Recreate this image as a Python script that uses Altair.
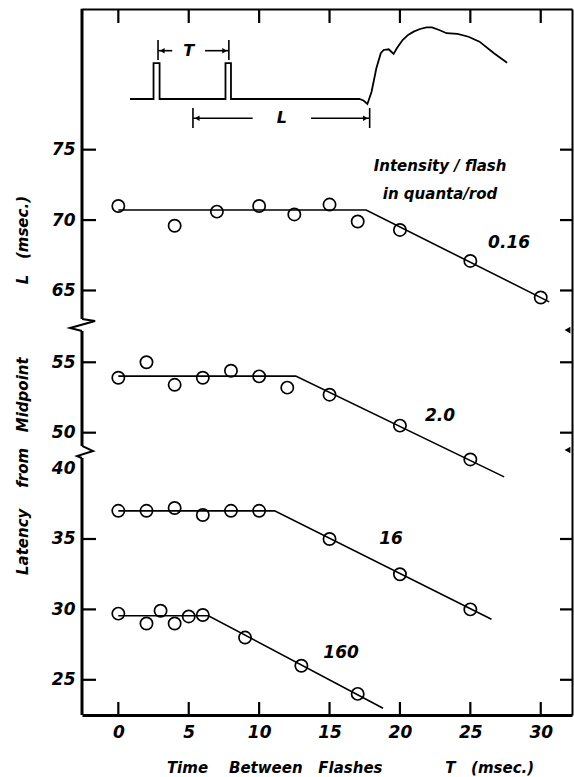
import altair as alt
import pandas as pd

# ---------------- data ----------------
# Time between flashes T (msec) and latency L (msec), per intensity (quanta/rod)
t_016 = [0, 4, 7, 10, 12.5, 15, 17, 20, 25, 30]
l_016 = [71.0, 69.6, 70.6, 71.0, 70.4, 71.1, 69.9, 69.3, 67.1, 64.5]
t_20 = [0, 2, 4, 6, 8, 10, 12, 15, 20, 25]
l_20 = [53.9, 55.0, 53.4, 53.9, 54.4, 54.0, 53.2, 52.7, 50.5, 48.1]
t_16 = [0, 2, 4, 6, 8, 10, 15, 20, 25]
l_16 = [37.0, 37.0, 37.2, 36.7, 37.0, 37.0, 35.0, 32.5, 30.0]
t_160 = [0, 2, 3, 4, 5, 6, 9, 13, 17]
l_160 = [29.7, 29.0, 29.9, 29.0, 29.5, 29.6, 28.0, 26.0, 24.0]

# fitted two-segment lines: start, knee, end
fit_t_016 = [0, 17.6, 30.6]
fit_l_016 = [70.72, 70.72, 64.19]
fit_t_20 = [0, 12.6, 27.4]
fit_l_20 = [54.02, 54.02, 46.86]
fit_t_16 = [0, 11.1, 26.5]
fit_l_16 = [37.0, 37.0, 29.3]
fit_t_160 = [0, 6.4, 18.8]
fit_l_160 = [29.55, 29.55, 22.98]

series_names = ["0.16", "2.0", "16", "160"]
series_panel = ["top", "mid", "bot", "bot"]
# broken axis: plotted height = latency - offset of its panel
panel_offset = {"top": 34.85, "mid": 29.95, "bot": 22.5}
panel_ticks = {"top": [65, 70, 75], "mid": [50, 55], "bot": [25, 30, 35, 40]}
panel_range = {"top": (62.98, 85.0), "mid": (49.06, 57.22), "bot": (22.5, 40.75)}
x_ticks = [0, 5, 10, 15, 20, 25, 30]

# series labels (T, latency)
lab_t = [27.75, 22.85, 19.37, 15.82]
lab_l = [68.4, 51.2, 35.0, 26.9]
legend_lines = ["Intensity  /  flash", "in  quanta/rod"]
legend_t = [22.85, 22.85]
legend_y = [38.99, 37.0]

# inset schematic (record trace), in plot units
trace_t = [0.83, 2.50, 2.50, 2.93, 2.93, 7.61, 7.61, 8.00, 8.00, 17.12, 17.41, 17.69,
           17.98, 18.33, 18.64, 18.84, 19.20, 19.37, 19.55, 19.79, 20.19, 20.58, 20.97,
           21.43, 21.88, 22.28, 22.79, 23.31, 24.09, 24.87, 25.65, 26.68, 27.61]
trace_y = [43.75, 43.75, 46.29, 46.29, 43.75, 43.75, 46.29, 46.29, 43.75, 43.75, 43.64,
           43.39, 44.25, 45.95, 47.00, 47.23, 47.28, 47.12, 46.95, 47.37, 47.94, 48.30,
           48.53, 48.72, 48.84, 48.84, 48.65, 48.42, 48.37, 48.17, 47.82, 47.00, 46.33]
dim_T = {"x1": 2.82, "x2": 7.85, "y": 47.18, "gap": (3.83, 6.16), "bar": (46.52, 47.94), "label": "T"}
dim_L = {"x1": 5.30, "x2": 17.85, "y": 42.38, "gap": (9.54, 13.69), "bar": (41.69, 43.11), "label": "L"}

# axis break marks (plot units)
brk_t = [[-2.58, -1.65, -3.43, -2.58], [-2.58, -1.80, -2.93, -2.58]]
brk_y = [[28.13, 27.98, 27.49, 27.27], [19.11, 18.75, 18.39, 18.25]]
arrow_t = [31.9, 31.9]
arrow_y = [27.34, 18.82]

X_DOM = [-2.58, 32.22]
Y_DOM = [0, 50.14]
W, H = 490, 706
FONT = "DejaVu Sans"
PX = 14.08            # pixels per plot unit (both axes share it)

# ---------------- tables ----------------
pts_t = [t_016, t_20, t_16, t_160]
pts_l = [l_016, l_20, l_16, l_160]
fits_t = [fit_t_016, fit_t_20, fit_t_16, fit_t_160]
fits_l = [fit_l_016, fit_l_20, fit_l_16, fit_l_160]

rows = []
for name, pan, ts, ls in zip(series_names, series_panel, pts_t, pts_l):
    for t, l in zip(ts, ls):
        rows.append({"series": name, "T": t, "L": l, "y": l - panel_offset[pan]})
pts = pd.DataFrame(rows)

rows = []
for name, pan, ts, ls in zip(series_names, series_panel, fits_t, fits_l):
    for i, (t, l) in enumerate(zip(ts, ls)):
        rows.append({"series": name, "T": t, "L": l, "y": l - panel_offset[pan], "o": i})
fits = pd.DataFrame(rows)

labs = pd.DataFrame({
    "text": series_names, "T": lab_t,
    "y": [l - panel_offset[p] for l, p in zip(lab_l, series_panel)],
})
legend = pd.DataFrame({"text": legend_lines, "T": legend_t, "y": legend_y})

tick_vals = []
for p in ["bot", "mid", "top"]:
    tick_vals += [v - panel_offset[p] for v in panel_ticks[p]]
hidden_tick = 40 - panel_offset["bot"]
mark_vals = [v for v in tick_vals if abs(v - hidden_tick) > 0.01]

# inward ticks as two-point polylines (same pattern as the break marks)
tick_rows = []
k = 0
for t in x_ticks:
    for (ya, yb) in [(Y_DOM[0], Y_DOM[0] + 13 / PX), (Y_DOM[1], Y_DOM[1] - 14 / PX)]:
        tick_rows += [{"id": k, "o": 0, "T": t, "y": ya}, {"id": k, "o": 1, "T": t, "y": yb}]
        k += 1
for v in mark_vals:
    for (xa, xb) in [(X_DOM[0], X_DOM[0] + 14 / PX), (X_DOM[1], X_DOM[1] - 12 / PX)]:
        tick_rows += [{"id": k, "o": 0, "T": xa, "y": v}, {"id": k, "o": 1, "T": xb, "y": v}]
        k += 1
tick_df = pd.DataFrame(tick_rows)

frame = pd.DataFrame([
    {"y1": lo - panel_offset[p], "y2": hi - panel_offset[p]}
    for p, (lo, hi) in panel_range.items()
])

trace = pd.DataFrame({"T": trace_t, "y": trace_y, "o": range(len(trace_t))})

dim_rows, bar_rows, head_rows, dim_labels = [], [], [], []
for d in [dim_T, dim_L]:
    dim_rows.append({"x1": d["x1"], "x2": d["gap"][0], "y": d["y"]})
    dim_rows.append({"x1": d["gap"][1], "x2": d["x2"], "y": d["y"]})
    bar_rows.append({"x": d["x1"], "y1": d["bar"][0], "y2": d["bar"][1]})
    bar_rows.append({"x": d["x2"], "y1": d["bar"][0], "y2": d["bar"][1]})
    head_rows.append({"x": d["x1"] + 0.3, "y": d["y"], "shape": "triangle-left"})
    head_rows.append({"x": d["x2"] - 0.3, "y": d["y"], "shape": "triangle-right"})
    dim_labels.append({"x": (d["gap"][0] + d["gap"][1]) / 2, "y": d["y"], "text": d["label"]})
dims = pd.DataFrame(dim_rows)
bars = pd.DataFrame(bar_rows)
heads = pd.DataFrame(head_rows)
dimlab = pd.DataFrame(dim_labels)

brk = pd.DataFrame([
    {"b": i, "o": j, "T": t, "y": y}
    for i, (ts, ys) in enumerate(zip(brk_t, brk_y))
    for j, (t, y) in enumerate(zip(ts, ys))
])
arrows = pd.DataFrame({"T": arrow_t, "y": arrow_y})

# ---------------- chart ----------------
xs = alt.Scale(domain=X_DOM, nice=False, zero=False)
ys = alt.Scale(domain=Y_DOM, nice=False, zero=False)
NB = "\u00a0"

label_expr = (
    f"datum.value > 27.5 ? format(datum.value + {panel_offset['top']}, '.0f') : "
    f"datum.value > 18.5 ? format(datum.value + {panel_offset['mid']}, '.0f') : "
    f"format(datum.value + {panel_offset['bot']}, '.0f')"
)

x_bottom = alt.Axis(
    values=x_ticks, orient="bottom", grid=False, ticks=False,
    domainColor="black", domainWidth=3, labelPadding=9, labelFont=FONT, labelFontSize=17,
    labelFontStyle="italic", labelFontWeight="bold", labelColor="black",
    title=f"Time{NB*4}Between{NB*3}Flashes{NB*12}T{NB*3}(msec.)",
    titleFont=FONT, titleFontSize=15, titleFontStyle="italic", titleFontWeight="bold",
    titleColor="black", titleX=268, titleY=52, titleBaseline="middle", titleAlign="center",
)
y_left = alt.Axis(
    values=tick_vals, orient="left", grid=False, domain=False, ticks=False,
    labelPadding=7, labelExpr=label_expr,
    labelFont=FONT, labelFontSize=17, labelFontStyle="italic", labelFontWeight="bold",
    labelColor="black", labelBaseline="middle",
    title=f"Latency{NB*4}from{NB*3}Midpoint{NB*14}L{NB*3}(msec.)",
    titleFont=FONT, titleFontSize=15, titleFontStyle="italic", titleFontWeight="bold",
    titleColor="black", titleX=-60, titleY=376, titleBaseline="middle", titleAlign="center",
    titleAngle=270,
)
x_top = alt.Axis(values=x_ticks, orient="top", grid=False, labels=False, ticks=False,
                 title=None, domainColor="black", domainWidth=2)
y_right = alt.Axis(values=mark_vals, orient="right", grid=False, labels=False, ticks=False,
                   title=None, domainColor="black", domainWidth=2)

points = alt.Chart(pts).mark_point(
    shape="circle", filled=False, size=150, strokeWidth=1.7, color="black",
    opacity=1, clip=False
).encode(
    x=alt.X("T:Q", scale=xs, axis=x_bottom),
    y=alt.Y("y:Q", scale=ys, axis=y_left),
    detail="series:N",
)

fit_lines = alt.Chart(fits).mark_line(color="black", strokeWidth=1.6).encode(
    x=alt.X("T:Q", scale=xs, axis=x_top),
    y=alt.Y("y:Q", scale=ys, axis=y_right),
    detail="series:N",
    order="o:Q",
)


def nx(f="T:Q"):
    return alt.X(f, scale=xs, axis=None)


def ny(f="y:Q"):
    return alt.Y(f, scale=ys, axis=None)


ticks_in = alt.Chart(tick_df).mark_line(color="black", strokeWidth=2.2, clip=False).encode(
    x=nx(), y=ny(), detail="id:N", order="o:Q"
)

series_labels = alt.Chart(labs).mark_text(
    font=FONT, fontSize=17, fontStyle="italic", fontWeight="bold", color="black"
).encode(x=nx(), y=ny(), text="text:N")

legend_text = alt.Chart(legend).mark_text(
    font=FONT, fontSize=15, fontStyle="italic", fontWeight="bold", color="black"
).encode(x=nx(), y=ny(), text="text:N")

frame_left = alt.Chart(frame).mark_rule(color="black", strokeWidth=3).encode(
    x=alt.value(0), y=ny("y1:Q"), y2="y2:Q"
)

breaks = alt.Chart(brk).mark_line(color="black", strokeWidth=2, clip=False).encode(
    x=nx(), y=ny(), detail="b:N", order="o:Q"
)

right_arrows = alt.Chart(arrows).mark_point(
    shape="triangle-left", filled=True, size=45, color="black", opacity=1
).encode(x=nx(), y=ny())

trace_line = alt.Chart(trace).mark_line(color="black", strokeWidth=1.8).encode(
    x=nx(), y=ny(), order="o:Q"
)

dim_lines = alt.Chart(dims).mark_rule(color="black", strokeWidth=1.6).encode(
    x=nx("x1:Q"), x2="x2:Q", y=ny()
)
dim_bars = alt.Chart(bars).mark_rule(color="black", strokeWidth=1.6).encode(
    x=nx("x:Q"), y=ny("y1:Q"), y2="y2:Q"
)
dim_heads = alt.Chart(heads).mark_point(filled=True, size=30, color="black", opacity=1).encode(
    x=nx("x:Q"), y=ny(), shape=alt.Shape("shape:N", scale=None, legend=None)
)
dim_text = alt.Chart(dimlab).mark_text(
    font=FONT, fontSize=16, fontStyle="italic", fontWeight="bold", color="black"
).encode(x=nx("x:Q"), y=ny(), text="text:N")

chart = alt.layer(
    points, fit_lines, frame_left, breaks, ticks_in, right_arrows, series_labels,
    legend_text, trace_line, dim_lines, dim_bars, dim_heads, dim_text,
).resolve_axis(x="independent", y="independent").properties(
    width=W, height=H,
    autosize=alt.AutoSizeParams(type="none"),
    padding={"left": 82, "top": 9, "right": 2, "bottom": 62},
    background="white",
).configure_view(stroke=None)

chart.save("out.html", embed_options={"renderer": "svg", "actions": False})
